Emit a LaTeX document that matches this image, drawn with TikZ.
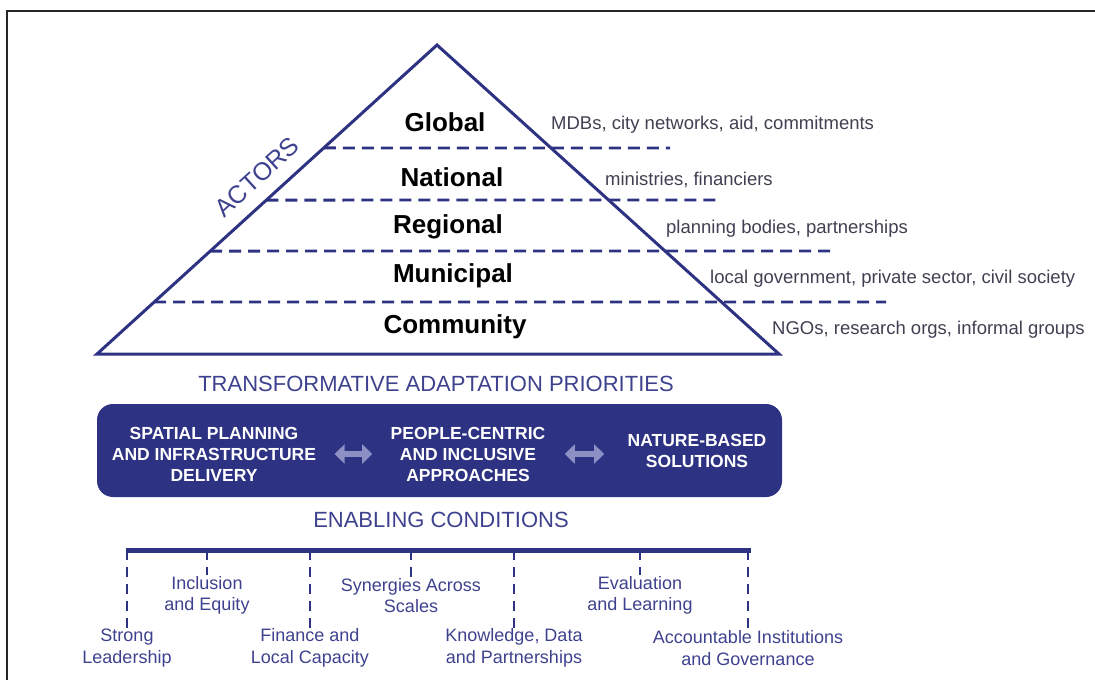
\documentclass[tikz,border=0pt]{standalone}
\usepackage{fontspec}
\setmainfont{Liberation Sans}
\usetikzlibrary{positioning,arrows.meta,calc}
\definecolor{navy}{RGB}{46,50,130}
\definecolor{inknavy}{RGB}{62,66,142}
\definecolor{lavender}{RGB}{140,144,196}
\definecolor{note}{RGB}{64,64,82}

\begin{document}
\begin{tikzpicture}[x=1pt, y=-1pt,
  level/.style={font=\fontsize{26}{26}\selectfont\bfseries, text=black},
  actor/.style={font=\fontsize{18.5}{20}\selectfont, text=note, anchor=west, inner sep=0pt},
  head/.style={font=\fontsize{22}{22}\selectfont, text=inknavy},
  prio/.style={font=\fontsize{17.5}{21}\selectfont\bfseries, text=white, align=center},
  cond/.style={font=\fontsize{18}{21.5}\selectfont, text=inknavy, align=center, inner sep=1pt},
  rung/.style={draw=navy, line width=2.8pt, dash pattern=on 12pt off 7pt},
  tick/.style={draw=navy, line width=2.6pt, dash pattern=on 10pt off 7pt},
  dbl/.style={draw=lavender, line width=5.5pt,
              {Triangle[length=10pt,width=19pt]}-{Triangle[length=10pt,width=19pt]}}
]
\useasboundingbox (0,0) rectangle (1095,680);
\draw[line width=2pt, black!85] (7,680) -- (7,11) -- (1095,11);

% pyramid of actors
\coordinate (apex) at (437,45);
\coordinate (bl) at (97,354);
\coordinate (br) at (779,354);
\draw[rung] ($(apex)!0.333!(bl)$) -- (670,148);
\draw[rung] ($(apex)!0.502!(bl)$) -- (722,200);
\draw[rung] ($(apex)!0.667!(bl)$) -- (836,251);
\draw[rung] ($(apex)!0.832!(bl)$) -- (886,302);
\draw[navy, line width=3pt] (apex) -- (bl) -- (br) -- cycle;

\node[head, font=\fontsize{25}{25}\selectfont, rotate=42.3, inner sep=0pt] (actors) at (257,177) {ACTORS};

\node[level] (glob) at (445,122) {Global};
\node[level] (nat) at (452,177) {National};
\node[level] (reg) at (448,227) {Regional};
\node[level] (mun) at (453,276) {Municipal};
\node[level] (com) at (455,327) {Community};

\node[actor] (globnote) at (551,125) {MDBs, city networks, aid, commitments};
\node[actor] (natnote) at (605,180) {ministries, financiers};
\node[actor] (regnote) at (666,229) {planning bodies, partnerships};
\node[actor] (munnote) at (710,279) {local government, private sector, civil society};
\node[actor] (comnote) at (772,330) {NGOs, research orgs, informal groups};

% priorities
\node[head] (prtitle) at (436,384) {TRANSFORMATIVE ADAPTATION PRIORITIES};
\node[fill=navy, rounded corners=16pt, minimum width=685pt, minimum height=93pt] (prbox) at (439.5,450.5) {};
\node[prio] (spa) at (214,454) {SPATIAL PLANNING\\AND INFRASTRUCTURE\\DELIVERY};
\node[prio] (peo) at (468,454) {PEOPLE-CENTRIC\\AND INCLUSIVE\\APPROACHES};
\node[prio] (nbs) at (697,451) {NATURE-BASED\\SOLUTIONS};
\draw[dbl, shorten <=15pt, shorten >=15pt] (spa.east |- 0,454) -- (peo.west |- 0,454);
\draw[dbl, shorten <=16pt, shorten >=20pt] (peo.east |- 0,454) -- (nbs.west |- 0,454);

% enabling conditions
\node[head] (entitle) at (441,520) {ENABLING CONDITIONS};
\coordinate (barL) at (126,550);
\coordinate (barR) at (751,550);
\draw[navy, line width=5pt] (barL) -- (barR);

\node[cond] (lead) at (127,648) {Strong\\Leadership};
\node[cond] (incl) at (207,595.5) {Inclusion\\and Equity};
\node[cond] (fin) at (310,648) {Finance and\\Local Capacity};
\node[cond] (syn) at (411,595.5) {Synergies Across\\Scales};
\node[cond] (know) at (514,648) {Knowledge, Data\\and Partnerships};
\node[cond] (eval) at (640,595.5) {Evaluation\\and Learning};
\node[cond] (acc) at (748,648) {Accountable Institutions\\and Governance};

\foreach \c in {lead,incl,fin,syn,know,eval,acc}
  \draw[tick] (\c.north |- barL) -- (\c.north);
\end{tikzpicture}
\end{document}
